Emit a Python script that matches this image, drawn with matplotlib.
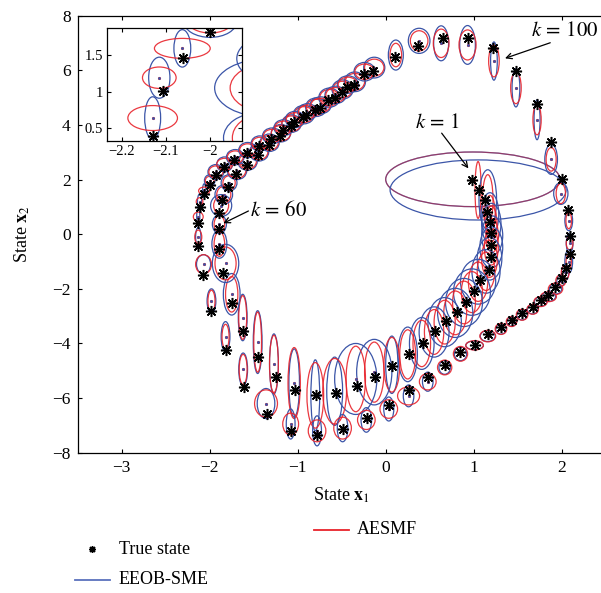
import matplotlib
matplotlib.use('Agg')
import matplotlib.pyplot as plt
from matplotlib.patches import Ellipse
from matplotlib.lines import Line2D

plt.rcParams['font.family'] = 'serif'
plt.rcParams['font.serif'] = ['Liberation Serif', 'DejaVu Serif']
plt.rcParams['mathtext.fontset'] = 'stix'

# true state (inner transient loop, inner band, outer loop, outer band)
true_x1 = [0.98, 1.06, 1.13, 1.155, 1.185, 1.20, 1.20, 1.20, 1.17, 1.07, 1.00, 0.91, 0.81, 0.69, 0.56, 0.42, 0.26,
           0.075, -0.12, -0.33, -0.565, -0.79, -1.03, -1.25, -1.455, -1.625, -1.75, -1.845, -1.89, -1.90, -1.89,
           -1.86, -1.795,
           -1.70, -1.58, -1.45, -1.33, -1.20, -1.08, -0.94, -0.80, -0.65, -0.50, -0.36, -0.14,
           0.106, 0.37, 0.655, 0.94, 1.22, 1.48, 1.72, 1.88, 2.00, 2.07, 2.10, 2.09, 2.05, 2.00, 1.92, 1.85, 1.76,
           1.67, 1.55, 1.43, 1.31, 1.16, 1.01, 0.85, 0.67, 0.48, 0.26, 0.04, -0.216, -0.49, -0.78, -1.08, -1.35,
           -1.61, -1.82, -1.98, -2.08, -2.13, -2.13, -2.107, -2.062, -2.00,
           -1.93, -1.84, -1.72, -1.58, -1.44, -1.30, -1.17, -1.04, -0.90, -0.75, -0.58, -0.44, -0.25]
true_x2 = [2.00, 1.62, 1.25, 0.82, 0.46, 0.03, -0.40, -0.82, -1.31, -1.68, -2.08, -2.47, -2.84, -3.18, -3.53, -3.97,
           -4.39, -4.82, -5.22, -5.56, -5.81, -5.89, -5.71, -5.24, -4.49, -3.53, -2.53, -1.43, -0.55, 0.18, 0.79,
           1.25, 1.72,
           2.20, 2.55, 2.90, 3.25, 3.60, 3.95, 4.28, 4.55, 4.90, 5.20, 5.47, 5.99,
           6.48, 6.89, 7.17, 7.17, 6.81, 5.99, 4.77, 3.39, 2.02, 0.89, -0.07, -0.74, -1.25, -1.62, -1.92, -2.23,
           -2.41, -2.68, -2.90, -3.14, -3.41, -3.66, -4.06, -4.30, -4.79, -5.22, -5.71, -6.26, -6.74, -7.15, -7.36,
           -7.20, -6.59, -5.61, -4.24, -2.81, -1.49, -0.43, 0.40, 1.013, 1.455, 1.81,
           2.15, 2.45, 2.72, 2.98, 3.22, 3.50, 3.80, 4.10, 4.38, 4.62, 5.00, 5.38, 5.85]

# estimated state (centre of both bounding ellipsoids)
est_x1 = [0.99, 1.05, 1.16, 1.185, 1.20, 1.21, 1.20, 1.18, 1.14, 1.05, 0.98, 0.89, 0.79, 0.67, 0.55, 0.41, 0.25,
          0.07, -0.13, -0.34, -0.58, -0.80, -1.04, -1.27, -1.455, -1.625, -1.75, -1.82, -1.89, -1.89, -1.87,
          -1.84, -1.78,
          -1.69, -1.57, -1.44, -1.32, -1.19, -1.07, -0.93, -0.79, -0.64, -0.49, -0.35, -0.13,
          0.115, 0.38, 0.63, 0.93, 1.23, 1.48, 1.72, 1.88, 1.99, 2.08, 2.09, 2.08, 2.04, 1.99, 1.93, 1.85, 1.76,
          1.67, 1.55, 1.43, 1.31, 1.16, 1.01, 0.85, 0.67, 0.478, 0.26, 0.035, -0.22, -0.49, -0.78, -1.08, -1.36,
          -1.62, -1.82, -1.98, -2.07, -2.13, -2.13, -2.115, -2.063, -2.00,
          -1.93, -1.83, -1.71, -1.57, -1.43, -1.29, -1.16, -1.03, -0.89, -0.74, -0.57, -0.43, -0.24]
est_x2 = [2.01, 1.62, 1.26, 0.72, 0.38, -0.05, -0.48, -0.90, -1.36, -1.74, -2.12, -2.50, -2.88, -3.22, -3.58, -4.00,
          -4.40, -4.78, -5.05, -5.30, -5.75, -5.90, -5.45, -4.75, -3.95, -3.05, -2.20, -1.07, -0.36, 0.37, 1.05,
          1.45, 1.88,
          2.32, 2.66, 3.00, 3.35, 3.70, 4.05, 4.38, 4.65, 5.00, 5.30, 5.58, 6.10,
          6.56, 7.08, 6.99, 6.93, 6.34, 5.36, 4.19, 2.74, 1.49, 0.50, -0.33, -1.00, -1.40, -1.70, -2.00, -2.29,
          -2.47, -2.75, -2.95, -3.20, -3.47, -3.73, -4.07, -4.38, -4.88, -5.40, -5.92, -6.40, -6.80, -7.10, -7.20,
          -6.95, -6.20, -4.95, -3.75, -2.45, -1.10, -0.10, 0.64, 1.19, 1.59, 1.96,
          2.28, 2.56, 2.82, 3.08, 3.32, 3.60, 3.90, 4.20, 4.48, 4.72, 5.10, 5.48, 5.95]

# EEOB-SME semi-axes
eeob_a = [0.99, 1.00, 0.10, 0.10, 0.11, 0.12, 0.13, 0.14, 0.16, 0.20, 0.21, 0.21, 0.20, 0.19, 0.17, 0.14, 0.11,
          0.07, 0.20, 0.24, 0.09, 0.05, 0.06, 0.05, 0.05, 0.05, 0.095, 0.15, 0.085, 0.08, 0.12,
          0.10, 0.09,
          0.11, 0.11, 0.11, 0.11, 0.11, 0.11, 0.12, 0.12, 0.12, 0.12, 0.12, 0.12,
          0.085, 0.123, 0.085, 0.089, 0.038, 0.044, 0.034, 0.072, 0.081, 0.044, 0.038, 0.044, 0.04, 0.045, 0.07,
          0.08, 0.07, 0.06, 0.06, 0.055, 0.06, 0.085, 0.10, 0.07, 0.065, 0.06, 0.06, 0.057, 0.06, 0.06, 0.05,
          0.05, 0.10, 0.05, 0.05, 0.05, 0.08, 0.03, 0.018, 0.024, 0.019, 0.06,
          0.09, 0.09, 0.10, 0.10, 0.10, 0.11, 0.11, 0.11, 0.11, 0.12, 0.12, 0.12, 0.12]
eeob_b = [1.00, 1.10, 1.10, 0.80, 0.75, 0.72, 0.75, 0.78, 0.80, 0.82, 0.85, 0.88, 0.90, 0.90, 0.92, 0.95, 1.00,
          1.05, 1.20, 1.30, 1.25, 1.30, 1.25, 1.10, 1.15, 0.85, 0.76, 0.70, 0.52, 0.34, 0.40,
          0.35, 0.30,
          0.32, 0.32, 0.32, 0.32, 0.32, 0.32, 0.34, 0.34, 0.35, 0.35, 0.36, 0.38,
          0.55, 0.46, 0.64, 0.71, 0.70, 0.70, 0.73, 0.55, 0.40, 0.37, 0.37, 0.43, 0.30, 0.21, 0.19, 0.17,
          0.17, 0.17, 0.19, 0.17, 0.19, 0.20, 0.16, 0.25, 0.25, 0.35, 0.40, 0.44, 0.45, 0.50, 0.55,
          0.55, 0.55, 0.60, 0.55, 0.45, 0.35, 0.35, 0.29, 0.28, 0.255, 0.22,
          0.27, 0.27, 0.28, 0.28, 0.28, 0.29, 0.29, 0.30, 0.30, 0.31, 0.32, 0.32, 0.34]

# AESMF semi-axes
aesmf_a = [0.99, 0.035, 0.06, 0.06, 0.065, 0.07, 0.08, 0.09, 0.10, 0.11, 0.12, 0.13, 0.13, 0.12, 0.11, 0.10,
           0.09, 0.09, 0.11, 0.11, 0.135, 0.095, 0.07, 0.05, 0.044, 0.045, 0.07, 0.12, 0.06, 0.06, 0.085,
           0.08, 0.07,
           0.10, 0.10, 0.10, 0.10, 0.11, 0.11, 0.11, 0.11, 0.11, 0.11, 0.11, 0.11,
           0.066, 0.10, 0.089, 0.097, 0.06, 0.06, 0.047, 0.057, 0.053, 0.032, 0.038, 0.03, 0.045, 0.057, 0.082,
           0.09, 0.076, 0.066, 0.066, 0.06, 0.066, 0.09, 0.10, 0.081, 0.081, 0.095, 0.125, 0.10, 0.10, 0.10, 0.10,
           0.09, 0.13, 0.045, 0.04, 0.04, 0.09, 0.04, 0.056, 0.038, 0.063, 0.05,
           0.08, 0.09, 0.09, 0.09, 0.09, 0.10, 0.10, 0.10, 0.10, 0.11, 0.11, 0.11, 0.11]
aesmf_b = [1.00, 1.04, 0.92, 0.70, 0.65, 0.62, 0.65, 0.68, 0.70, 0.72, 0.75, 0.78, 0.80, 0.80, 0.82, 0.85, 0.90,
           1.00, 1.10, 1.20, 1.20, 1.20, 1.30, 1.05, 1.10, 0.80, 0.65, 0.60, 0.45, 0.30, 0.33,
           0.30, 0.26,
           0.27, 0.27, 0.27, 0.27, 0.28, 0.28, 0.29, 0.29, 0.30, 0.30, 0.31, 0.31,
           0.43, 0.37, 0.52, 0.55, 0.58, 0.58, 0.55, 0.43, 0.37, 0.30, 0.24, 0.27, 0.25, 0.21, 0.21, 0.18,
           0.18, 0.18, 0.20, 0.18, 0.20, 0.21, 0.17, 0.27, 0.27, 0.30, 0.33, 0.34, 0.35, 0.40, 0.40,
           0.40, 0.50, 0.55, 0.45, 0.40, 0.35, 0.25, 0.17, 0.146, 0.136, 0.16,
           0.22, 0.22, 0.23, 0.23, 0.23, 0.24, 0.24, 0.25, 0.25, 0.26, 0.27, 0.27, 0.28]

blue = '#3b55a8'
red = '#e8232b'


def draw_marks(ax):
    for i in range(len(true_x1)):
        ax.add_patch(Ellipse((est_x1[i], est_x2[i]), 2 * eeob_a[i], 2 * eeob_b[i],
                             fill=False, ec=blue, lw=0.9))
        # the first bounds coincide, so let the blue show through the red
        ax.add_patch(Ellipse((est_x1[i], est_x2[i]), 2 * aesmf_a[i], 2 * aesmf_b[i],
                             fill=False, ec=red, lw=0.9, alpha=0.5 if i == 0 else 0.9))
    ax.plot(est_x1, est_x2, ls='none', marker='.', ms=2.5, color=red)
    ax.plot(est_x1, est_x2, ls='none', marker='.', ms=2.0, color=blue)
    ax.plot(true_x1, true_x2, ls='none', marker=(8, 2, 0), ms=8, mew=1.1, color='k')


fig = plt.figure(figsize=(6.01, 5.93), dpi=100)
ax = fig.add_axes([0.1293, 0.2366, 0.8785, 0.7369])
draw_marks(ax)
ax.set_xlim(-3.5, 2.5)
ax.set_ylim(-8, 8)
ax.set_xticks([-3, -2, -1, 0, 1, 2])
ax.set_yticks([-8, -6, -4, -2, 0, 2, 4, 6, 8])
ax.tick_params(direction='in', top=True, right=True, length=3, width=0.8, labelsize=12.5, pad=5)
for s in ax.spines.values():
    s.set_linewidth(0.9)

arr = dict(arrowstyle='->', lw=0.9, color='k', shrinkA=0, shrinkB=0)
ax.annotate('', xy=(1.356, 6.44), xytext=(1.87, 7.01), arrowprops=arr)
ax.text(2.03, 7.42, r'$k\,=\,100$', fontsize=15, ha='center', va='center')
ax.annotate('', xy=(0.94, 2.41), xytext=(0.636, 3.70), arrowprops=arr)
ax.text(0.583, 4.06, r'$k\,=\,1$', fontsize=15, ha='center', va='center')
ax.annotate('', xy=(-1.845, 0.40), xytext=(-1.56, 0.85), arrowprops=arr)
ax.text(-1.216, 0.857, r'$k\,=\,60$', fontsize=15, ha='center', va='center')

# inset
axin = fig.add_axes([0.1785, 0.7627, 0.2236, 0.1906])
draw_marks(axin)
axin.set_xlim(-2.2325, -1.929)
axin.set_ylim(0.331, 1.872)
axin.set_xticks([-2.2, -2.1, -2])
axin.set_yticks([0.5, 1, 1.5])
axin.set_xticklabels(['\u22122.2', '\u22122.1', '\u22122'])
axin.set_yticklabels(['0.5', '1', '1.5'])
axin.tick_params(direction='in', top=True, right=True, length=3, width=0.8, labelsize=10.5, pad=3)
for s in axin.spines.values():
    s.set_linewidth(0.9)

W, H = 601.0, 593.0
fig.text(341.7 / W, 1 - 495 / H, r'State $\mathbf{x}_1$', fontsize=13, ha='center', va='center')
fig.text(22 / W, 1 - 234 / H, r'State $\mathbf{x}_2$', fontsize=13, ha='center', va='center', rotation=90)

# legend drawn by hand, three staggered entries
fig.add_artist(Line2D([92 / W], [1 - 549 / H], ls='none', marker=(8, 2, 0), ms=5, mew=1.0, color='k'))
fig.text(119 / W, 1 - 549 / H, 'True state', fontsize=13, va='center')
fig.add_artist(Line2D([75 / W, 110 / W], [1 - 580 / H, 1 - 580 / H], color='#5a72bd', lw=1.3))
fig.text(119 / W, 1 - 580 / H, 'EEOB-SME', fontsize=13, va='center')
fig.add_artist(Line2D([314 / W, 349 / W], [1 - 530 / H, 1 - 530 / H], color=red, lw=1.3))
fig.text(357 / W, 1 - 530 / H, 'AESMF', fontsize=13, va='center')

fig.savefig('out.png', dpi=100)
